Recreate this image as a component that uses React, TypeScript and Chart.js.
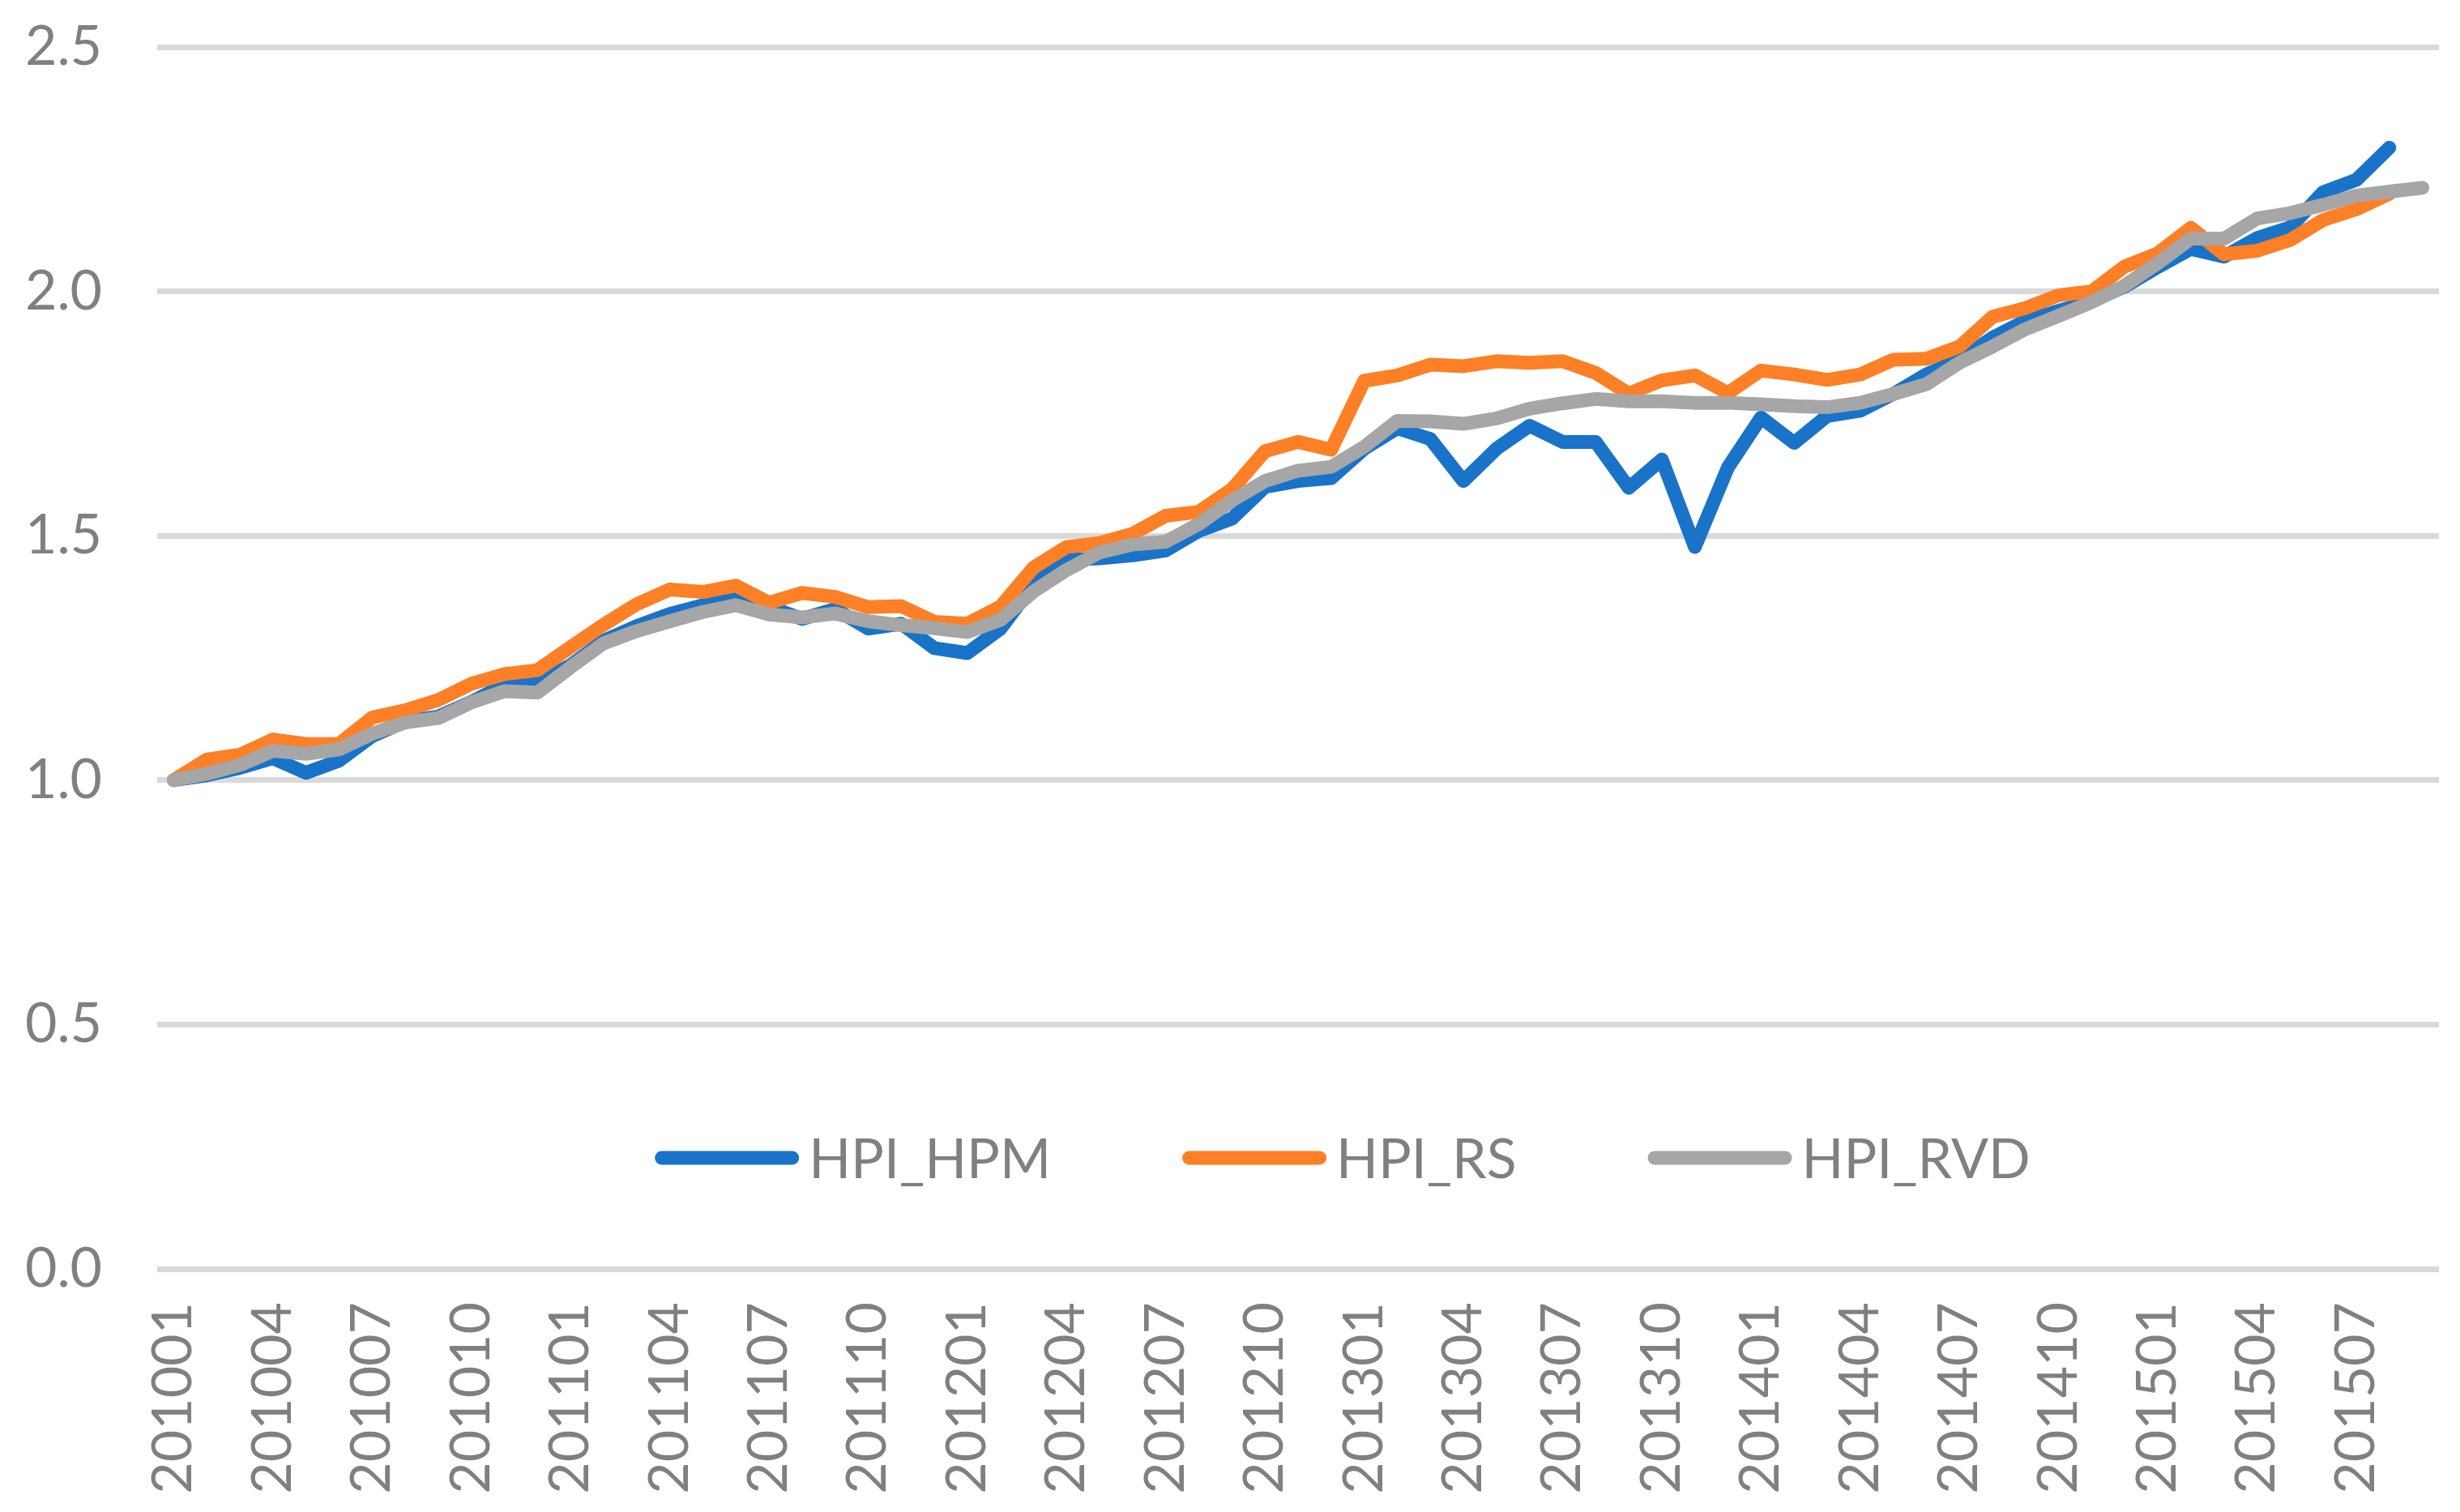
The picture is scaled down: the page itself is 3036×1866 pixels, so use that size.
import React, { useEffect, useRef } from "react";
import { Chart, registerables } from "chart.js";

Chart.register(...registerables);

const FONT = "Lato";
const FONT_SIZE = 68;
const TEXT_COLOR = "#808080";

const months = [
  "201001", "201002", "201003", "201004", "201005", "201006", "201007", "201008", "201009", "201010", "201011", "201012",
  "201101", "201102", "201103", "201104", "201105", "201106", "201107", "201108", "201109", "201110", "201111", "201112",
  "201201", "201202", "201203", "201204", "201205", "201206", "201207", "201208", "201209", "201210", "201211", "201212",
  "201301", "201302", "201303", "201304", "201305", "201306", "201307", "201308", "201309", "201310", "201311", "201312",
  "201401", "201402", "201403", "201404", "201405", "201406", "201407", "201408", "201409", "201410", "201411", "201412",
  "201501", "201502", "201503", "201504", "201505", "201506", "201507", "201508", "201509",
];

const hpiHpm = [
  1.0, 1.01, 1.025, 1.045, 1.015, 1.04, 1.09, 1.12, 1.13, 1.16, 1.195, 1.2,
  1.235, 1.285, 1.315, 1.34, 1.358, 1.38, 1.355, 1.33, 1.35, 1.31, 1.32, 1.27,
  1.26, 1.31, 1.4, 1.45, 1.454, 1.46, 1.47, 1.51, 1.535, 1.6, 1.612, 1.618,
  1.678, 1.72, 1.698, 1.612, 1.678, 1.725, 1.692, 1.692, 1.598, 1.656, 1.477, 1.64,
  1.742, 1.69, 1.745, 1.756, 1.79, 1.83, 1.86, 1.905, 1.94, 1.96, 1.98, 2.01,
  2.05, 2.087, 2.071, 2.109, 2.131, 2.203, 2.228, 2.294,
];

const hpiRs = [
  1.0, 1.042, 1.052, 1.083, 1.074, 1.074, 1.128, 1.143, 1.164, 1.197, 1.217, 1.225,
  1.272, 1.318, 1.36, 1.39, 1.385, 1.398, 1.363, 1.383, 1.375, 1.354, 1.356, 1.324,
  1.32, 1.355, 1.435, 1.477, 1.485, 1.504, 1.541, 1.549, 1.595, 1.673, 1.692, 1.676,
  1.817, 1.828, 1.85, 1.847, 1.857, 1.854, 1.857, 1.833, 1.791, 1.818, 1.828, 1.792,
  1.838, 1.83, 1.819, 1.83, 1.86, 1.862, 1.887, 1.948, 1.966, 1.992, 2.0, 2.051,
  2.078, 2.13, 2.076, 2.083, 2.105, 2.146, 2.168, 2.2,
];

const hpiRvd = [
  1.0, 1.013, 1.031, 1.06, 1.054, 1.063, 1.095, 1.118, 1.127, 1.159, 1.182, 1.179,
  1.231, 1.28, 1.305, 1.325, 1.344, 1.358, 1.339, 1.333, 1.341, 1.325, 1.317, 1.311,
  1.303, 1.328, 1.386, 1.43, 1.466, 1.482, 1.488, 1.524, 1.572, 1.612, 1.633, 1.641,
  1.682, 1.735, 1.734, 1.729, 1.74, 1.76, 1.771, 1.78, 1.775, 1.775, 1.772, 1.772,
  1.769, 1.765, 1.763, 1.772, 1.79, 1.81, 1.854, 1.887, 1.923, 1.95, 1.978, 2.012,
  2.058, 2.108, 2.108, 2.149, 2.16, 2.177, 2.196, 2.204, 2.212,
];

const seriesNames = ["HPI_HPM", "HPI_RS", "HPI_RVD"];
const seriesColors = ["#1973C8", "#FD7F26", "#A6A6A6"];
const yTicks = [0, 0.5, 1.0, 1.5, 2.0, 2.5];

const LINE_W = 17;

const inlineLegend = {
  id: "inlineLegend",
  afterDatasetsDraw(chart: any) {
    const { ctx, chartArea } = chart;
    ctx.save();
    ctx.font = `${FONT_SIZE}px ${FONT}`;
    const lineLen = 178;
    const gapText = 12;
    const gapItem = 162;
    const items = seriesNames.map((n, k) => ({ n, c: seriesColors[k], w: ctx.measureText(n).width }));
    const total =
      items.reduce((a, it) => a + lineLen + gapText + it.w, 0) + gapItem * (items.length - 1);
    let x = chartArea.left + chartArea.width * 0.5195 - total / 2;
    const y = chartArea.bottom - chartArea.height * 0.0908;
    for (const it of items) {
      ctx.beginPath();
      ctx.strokeStyle = it.c;
      ctx.lineWidth = LINE_W;
      ctx.lineCap = "round";
      ctx.moveTo(x + LINE_W / 2, y);
      ctx.lineTo(x + lineLen - LINE_W / 2, y);
      ctx.stroke();
      x += lineLen + gapText;
      ctx.fillStyle = TEXT_COLOR;
      ctx.textAlign = "left";
      ctx.textBaseline = "middle";
      ctx.fillText(it.n, x, y + 3);
      x += it.w + gapItem;
    }
    ctx.restore();
  },
};

export default function App() {
  const ref = useRef<HTMLCanvasElement>(null);

  useEffect(() => {
    document.body.style.margin = "0";
    let chart: Chart | null = null;
    let cancelled = false;
    const make = () => {
      if (cancelled || !ref.current) return;
      const font = { family: FONT, size: FONT_SIZE };
      chart = new Chart(ref.current, {
        type: "line",
        data: {
          labels: months,
          datasets: [
            { label: seriesNames[0], data: hpiHpm, borderColor: seriesColors[0], backgroundColor: seriesColors[0], order: 3 },
            { label: seriesNames[1], data: hpiRs, borderColor: seriesColors[1], backgroundColor: seriesColors[1], order: 2 },
            { label: seriesNames[2], data: hpiRvd, borderColor: seriesColors[2], backgroundColor: seriesColors[2], order: 1 },
          ],
        },
        options: {
          responsive: false,
          animation: false,
          devicePixelRatio: 1,
          layout: { padding: { top: 58, right: 26, left: 0, bottom: 0 } },
          elements: {
            point: { radius: 0, hoverRadius: 0 },
            line: { tension: 0, borderWidth: LINE_W, borderCapStyle: "round", borderJoinStyle: "round" },
          },
          plugins: { legend: { display: false }, tooltip: { enabled: false } },
          scales: {
            x: {
              type: "category",
              offset: true,
              grid: { display: false, drawTicks: false },
              border: { display: false },
              ticks: {
                autoSkip: false,
                minRotation: 90,
                maxRotation: 90,
                padding: 41,
                color: TEXT_COLOR,
                font,
                callback: (_v: any, i: number) => (i % 3 === 0 ? months[i] : ""),
              },
              afterFit: (s: any) => {
                s.height = 300;
                s.paddingLeft = 0;
                s.paddingRight = 0;
                s.paddingTop = 0;
                s.paddingBottom = 0;
              },
            },
            y: {
              min: yTicks[0],
              max: yTicks[yTicks.length - 1],
              grid: { color: "#D9D9D9", lineWidth: 7, drawTicks: false },
              border: { display: false },
              afterBuildTicks: (s: any) => {
                s.ticks = yTicks.map((v) => ({ value: v }));
              },
              ticks: {
                padding: 68,
                color: TEXT_COLOR,
                font,
                callback: (v: any) => Number(v).toFixed(1),
              },
              afterFit: (s: any) => {
                s.width = 194;
                s.paddingLeft = 0;
                s.paddingRight = 0;
                s.paddingTop = 0;
                s.paddingBottom = 0;
              },
            },
          },
        },
        plugins: [inlineLegend],
      });
    };
    if ((document as any).fonts && (document as any).fonts.load) {
      (document as any).fonts.load(`${FONT_SIZE}px ${FONT}`).then(make, make);
    } else {
      make();
    }
    return () => {
      cancelled = true;
      if (chart) chart.destroy();
    };
  }, []);

  return (
    <div style={{ width: 3036, height: 1866 }}>
      <canvas ref={ref} width={3036} height={1866} style={{ display: "block", width: 3036, height: 1866 }} />
    </div>
  );
}
